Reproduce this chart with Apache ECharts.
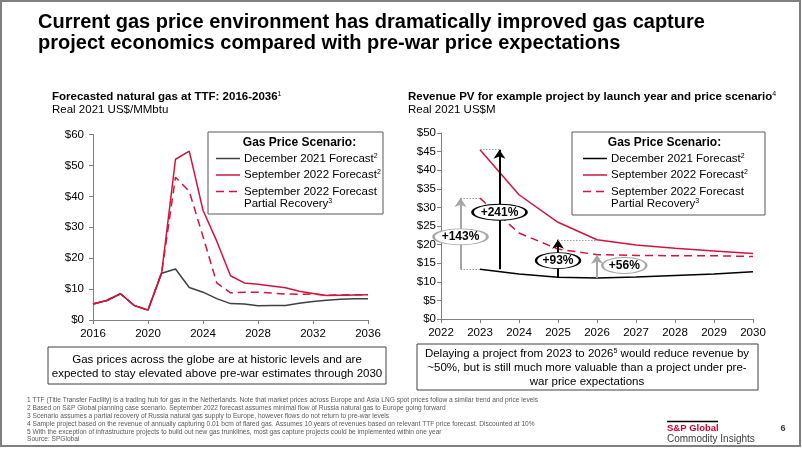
<!DOCTYPE html>
<html><head><meta charset="utf-8">
<script src="https://cdn.jsdelivr.net/npm/echarts@6/dist/echarts.min.js"></script>
<style>html,body{margin:0;padding:0;background:#fff}#c{width:802px;height:451px}</style>
</head><body><div id="c"></div>
<script>
// ---------- data ----------
const leftYears = [2016,2017,2018,2019,2020,2021,2022,2023,2024,2025,2026,2027,2028,2029,2030,2031,2032,2033,2034,2035,2036];
const leftDec2021 = [5.2,6.3,8.5,4.7,3.2,15.1,16.5,10.5,9.0,6.9,5.3,5.2,4.6,4.7,4.7,5.4,6.0,6.4,6.7,6.9,6.9];
const leftSep2022 = [5.2,6.3,8.5,4.7,3.2,15.5,52.0,54.6,35.5,25.5,14.3,12.0,11.6,11.0,10.4,9.3,8.6,7.9,8.0,8.1,8.2];
const leftSep2022Partial = [5.2,6.3,8.5,4.7,3.2,15.5,46.2,41.6,27.0,12.0,8.8,9.0,9.0,8.7,8.4,8.3,8.4,8.0,8.1,8.2,8.2];

const rightYears = [2023,2024,2025,2026,2027,2028,2029,2030];
const rightDec2021 = [13.4,12.1,11.2,11.0,11.3,11.7,12.1,12.7];
const rightSep2022 = [45.5,33.4,26.0,21.3,19.9,19.0,18.3,17.6];
const rightSep2022Partial = [32.5,23.1,18.8,17.3,17.1,17.0,17.0,16.8];

const leftYTicks = [0,10,20,30,40,50,60];
const rightYTicks = [0,5,10,15,20,25,30,35,40,45,50];

const upliftLabels = ['+143%','+241%','+93%','+56%'];
const upliftBaseYear = [2023,2023,2026,2026];
const upliftTarget = ['partial','sep','sep','partial'];

const seriesNames = ['December 2021 Forecast','September 2022 Forecast','September 2022 Forecast\nPartial Recovery'];

// ---------- helpers ----------
const FONT = 'Arial, "Liberation Sans", Helvetica, sans-serif';
const RED = '#d2143c';
const GREY = '#a6a6a6';
const pair = (xs, ys) => xs.map((x, i) => [x, ys[i]]);
const rv = (arr, yr) => arr[rightYears.indexOf(yr)];
const targetArr = t => t === 'sep' ? rightSep2022 : rightSep2022Partial;

function T(x, y, text, o) {
  o = o || {};
  const size = o.size || 12, weight = o.weight || 'normal';
  const st = {
    x, y, text, fill: o.fill || '#000', fontSize: size, fontWeight: weight, fontFamily: FONT,
    align: o.align || 'left', textAlign: o.align || 'left',
    verticalAlign: 'middle', textVerticalAlign: 'middle'
  };
  if (o.lh) st.lineHeight = o.lh;
  if (o.rich) st.rich = o.rich;
  return { type: 'text', silent: true, z: 20, style: st };
}
function supRich(size, weight) {
  return {
    n: { fontSize: size, fontWeight: weight, fontFamily: FONT, fill: '#000' },
    s: { fontSize: Math.round(size * 0.6), fontWeight: 'normal', fontFamily: FONT, fill: '#000', verticalAlign: 'top' }
  };
}
function R(x, y, w, h, stroke, lw) {
  return { type: 'rect', silent: true, z: 15, shape: { x, y, width: w, height: h }, style: { fill: '#fff', stroke, lineWidth: lw || 1 } };
}
function L(x1, y1, x2, y2, stroke, dash, lw) {
  return { type: 'line', silent: true, z: 20, shape: { x1, y1, x2, y2 }, style: { stroke, lineWidth: lw || 1.5, lineDash: dash || null } };
}
function legend(bx, by, bw, bh, cx, lx1, lx2, tx, decColor) {
  const rs = supRich(11.5, 'normal');
  const rows = [158.5, 175, 191.5];
  return [
    R(bx, by, bw, bh, '#595959', 1),
    T(cx, 143, 'Gas Price Scenario:', { size: 12, weight: 'bold', align: 'center' }),
    L(lx1, rows[0], lx2, rows[0], decColor, null, 1.5),
    T(tx, rows[0], '{n|December 2021 Forecast}{s|2}', { rich: rs }),
    L(lx1, rows[1], lx2, rows[1], RED, null, 1.5),
    T(tx, rows[1], '{n|September 2022 Forecast}{s|2}', { rich: rs }),
    L(lx1, rows[2], lx2, rows[2], RED, [8, 5], 1.5),
    T(tx, rows[2], 'September 2022 Forecast', { size: 11.5 }),
    T(tx, 204, '{n|Partial Recovery}{s|3}', { rich: rs })
  ];
}

const ellipse = 'path://M0,1 C0,0.4477 0.4477,0 1,0 C1.5523,0 2,0.4477 2,1 C2,1.5523 1.5523,2 1,2 C0.4477,2 0,1.5523 0,1 Z';

// annotation marks in data coordinates
const arrowX = [2022.5, 2023.5, 2025, 2026];
const arrowColor = [GREY, '#000', '#000', GREY];
const markLines = [];
upliftLabels.forEach((lab, i) => {
  const y0 = rv(rightDec2021, upliftBaseYear[i]);
  const y1 = rv(targetArr(upliftTarget[i]), upliftBaseYear[i]);
  markLines.push([
    { coord: [arrowX[i], y0], symbol: 'none', lineStyle: { color: arrowColor[i], width: 2, type: 'solid' } },
    { coord: [arrowX[i], y1], symbol: 'arrow' }
  ]);
});
const dot = { color: '#9a9a9a', width: 1, type: [1.5, 1.5] };
[
  [2022.5, 2023, rv(rightDec2021, 2023)],
  [2022.5, 2023, rv(rightSep2022Partial, 2023)],
  [2023, 2023.5, rv(rightSep2022, 2023)],
  [2025, 2026, rv(rightSep2022, 2026)]
].forEach(d => {
  markLines.push([
    { coord: [d[0], d[2]], symbol: 'none', lineStyle: dot },
    { coord: [d[1], d[2]], symbol: 'none' }
  ]);
});
const labelAt = [[2022.5, 22.1], [2023.5, 28.7], [2025, 15.7], [2026.7, 14.4]];
const labelSize = [[54, 16], [54, 16], [44, 16], [44, 16]];
const labelBorder = [GREY, '#000', '#000', GREY];
const markPoints = upliftLabels.map((lab, i) => ({
  coord: labelAt[i], value: lab, symbol: ellipse, symbolSize: labelSize[i],
  itemStyle: { color: '#fff', borderColor: labelBorder[i], borderWidth: 1.5 },
  label: { show: true, position: 'inside', formatter: lab, color: '#000', fontWeight: 'bold', fontSize: 12, fontFamily: FONT }
}));

const axisCommon = {
  axisLine: { show: true, onZero: false, lineStyle: { color: '#808080', width: 1 } },
  axisTick: { show: true, length: 4, lineStyle: { color: '#808080' } },
  splitLine: { show: false },
  axisLabel: { color: '#000', fontSize: 11.5, fontFamily: FONT }
};
const yearFmt = v => String(v);

const option = {
  animation: false,
  backgroundColor: '#fff',
  grid: [
    { left: 93, right: 434, top: 134.5, bottom: 131 },
    { left: 441, right: 49, top: 133, bottom: 132 }
  ],
  xAxis: [
    Object.assign({}, axisCommon, { gridIndex: 0, type: 'value', min: 2016, max: 2036, interval: 4,
      axisLabel: Object.assign({}, axisCommon.axisLabel, { margin: 8, formatter: yearFmt }) }),
    Object.assign({}, axisCommon, { gridIndex: 1, type: 'value', min: 2022, max: 2030, interval: 1,
      axisLabel: Object.assign({}, axisCommon.axisLabel, { margin: 8, formatter: yearFmt }) })
  ],
  yAxis: [
    Object.assign({}, axisCommon, { gridIndex: 0, type: 'value', min: leftYTicks[0], max: leftYTicks[leftYTicks.length - 1], interval: leftYTicks[1] - leftYTicks[0],
      axisLabel: Object.assign({}, axisCommon.axisLabel, { margin: 9, formatter: v => '$' + v }) }),
    Object.assign({}, axisCommon, { gridIndex: 1, type: 'value', min: rightYTicks[0], max: rightYTicks[rightYTicks.length - 1], interval: rightYTicks[1] - rightYTicks[0],
      axisLabel: Object.assign({}, axisCommon.axisLabel, { margin: 5, formatter: v => '$' + v }) })
  ],
  series: [
    { name: seriesNames[0], type: 'line', xAxisIndex: 0, yAxisIndex: 0, data: pair(leftYears, leftDec2021), symbol: 'none', z: 2,
      lineStyle: { color: '#404040', width: 1.5 }, itemStyle: { color: '#404040' } },
    { name: seriesNames[2], type: 'line', xAxisIndex: 0, yAxisIndex: 0, data: pair(leftYears, leftSep2022Partial), symbol: 'none', z: 3,
      lineStyle: { color: RED, width: 1.5, type: [8, 5] }, itemStyle: { color: RED } },
    { name: seriesNames[1], type: 'line', xAxisIndex: 0, yAxisIndex: 0, data: pair(leftYears, leftSep2022), symbol: 'none', z: 4,
      lineStyle: { color: RED, width: 1.5 }, itemStyle: { color: RED } },
    { name: seriesNames[0], type: 'line', xAxisIndex: 1, yAxisIndex: 1, data: pair(rightYears, rightDec2021), symbol: 'none', z: 4,
      lineStyle: { color: '#000', width: 1.5 }, itemStyle: { color: '#000' },
      markLine: { silent: true, animation: false, z: 5, symbolSize: 9, label: { show: false }, data: markLines },
      markPoint: { silent: true, animation: false, z: 8, data: markPoints } },
    { name: seriesNames[2], type: 'line', xAxisIndex: 1, yAxisIndex: 1, data: pair(rightYears, rightSep2022Partial), symbol: 'none', z: 3,
      lineStyle: { color: RED, width: 1.5, type: [8, 5] }, itemStyle: { color: RED } },
    { name: seriesNames[1], type: 'line', xAxisIndex: 1, yAxisIndex: 1, data: pair(rightYears, rightSep2022), symbol: 'none', z: 3,
      lineStyle: { color: RED, width: 1.5 }, itemStyle: { color: RED } }
  ],
  graphic: [].concat(
    [{ type: 'rect', silent: true, z: 1, shape: { x: 1, y: 1, width: 799, height: 445 }, style: { fill: 'none', stroke: '#7f7f7f', lineWidth: 2 } }],
    [
      T(38, 22.5, 'Current gas price environment has dramatically improved gas capture', { size: 20, weight: 'bold' }),
      T(38, 43, 'project economics compared with pre-war price expectations', { size: 20, weight: 'bold' }),
      T(52, 97, '{n|Forecasted natural gas at TTF: 2016-2036}{s|1}', { rich: supRich(11.5, 'bold') }),
      T(52, 110, 'Real 2021 US$/MMbtu', { size: 11.5 }),
      T(408, 97, '{n|Revenue PV for example project by launch year and price scenario}{s|4}', { rich: supRich(11.5, 'bold') }),
      T(408, 110, 'Real 2021 US$M', { size: 11.5 })
    ],
    legend(208, 132, 175, 82, 299.5, 216, 240, 244, '#404040'),
    legend(572, 132, 193, 83, 664.5, 583, 607, 611, '#000'),
    [
      R(48, 347, 338, 37, '#404040', 1),
      T(217, 360, 'Gas prices across the globe are at historic levels and are', { size: 11.5, align: 'center' }),
      T(217, 374, 'expected to stay elevated above pre-war estimates through 2030', { size: 11.5, align: 'center' }),
      R(417, 344, 341, 46, '#404040', 1),
      T(587, 354, '{n|Delaying a project from 2023 to 2026}{s|5}{n| would reduce revenue by}', { align: 'center', rich: supRich(11.5, 'normal') }),
      T(587, 368, '~50%, but is still much more valuable than a project under pre-', { size: 11.5, align: 'center' }),
      T(587, 382, 'war price expectations', { size: 11.5, align: 'center' })
    ],
    [
      '1 TTF (Title Transfer Facility) is a trading hub for gas in the Netherlands. Note that market prices across Europe and Asia LNG spot prices follow a similar trend and price levels',
      '2 Based on S&P Global planning case scenario. September 2022 forecast assumes minimal flow of Russia natural gas to Europe going forward',
      '3 Scenario assumes a partial recovery of Russia natural gas supply to Europe, however flows do not return to pre-war levels',
      '4 Sample project based on the revenue of annually capturing 0.01 bcm of flared gas. Assumes 10 years of revenues based on relevant TTF price forecast. Discounted at 10%',
      '5 With the exception of infrastructure projects to build out new gas trunklines, most gas capture projects could be implemented within one year',
      'Source: SPGlobal'
    ].map((s, i) => T(27, 400.5 + i * 7.8, s, { size: 6.6, fill: '#595959' })),
    [
      L(667, 421.5, 718, 421.5, '#000', null, 1.5),
      T(667, 428, 'S&P Global', { size: 9.5, weight: 'bold', fill: '#d6002a' }),
      T(667, 439.5, 'Commodity Insights', { size: 10, fill: '#404040' }),
      T(783, 429, '6', { size: 9, weight: 'bold', fill: '#404040', align: 'center' })
    ]
  )
};
const chart = echarts.init(document.getElementById('c'));
chart.setOption(option);
</script>
</body></html>
